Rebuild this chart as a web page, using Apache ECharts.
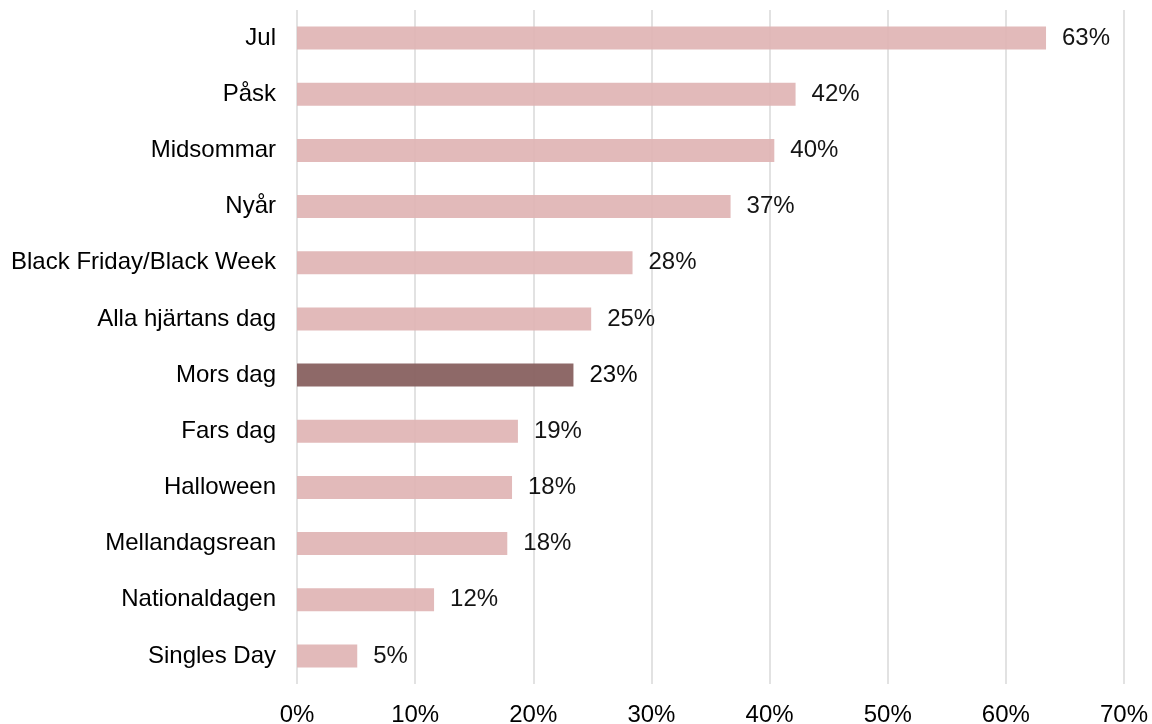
<!DOCTYPE html>
<html>
<head>
<meta charset="utf-8">
<script src="https://cdn.jsdelivr.net/npm/echarts@6/dist/echarts.min.js"></script>
<style>
  html, body { margin: 0; padding: 0; background: #fff; }
  #chart { width: 1152px; height: 724px; }
</style>
</head>
<body>
<div id="chart"></div>
<script>
// kategorier, uppifrån och ned
var categories = ['Jul', 'Påsk', 'Midsommar', 'Nyår', 'Black Friday/Black Week', 'Alla hjärtans dag',
  'Mors dag', 'Fars dag', 'Halloween', 'Mellandagsrean', 'Nationaldagen', 'Singles Day'];
var values = [63.4, 42.2, 40.4, 36.7, 28.4, 24.9, 23.4, 18.7, 18.2, 17.8, 11.6, 5.1];
var highlight = 'Mors dag';
var xTicks = [0, 10, 20, 30, 40, 50, 60, 70];

var myChart = echarts.init(document.getElementById('chart'));

var option = {
  animation: false,
  textStyle: { fontFamily: 'Liberation Sans, Arial, sans-serif' },
  grid: { left: 297, right: 28, top: 10, bottom: 40, containLabel: false, outerBoundsMode: 'none' },
  xAxis: {
    type: 'value',
    min: 0,
    max: 70,
    interval: 10,
    axisLine: { show: false },
    axisTick: { show: false },
    splitLine: { show: true, lineStyle: { color: '#d9d9d9', width: 1.5 } },
    axisLabel: {
      formatter: function (v) { return xTicks.indexOf(v) >= 0 ? v + '%' : ''; },
      color: '#000',
      fontSize: 24,
      margin: 19
    }
  },
  yAxis: {
    type: 'category',
    inverse: true,
    data: categories,
    axisLine: { show: false },
    axisTick: { show: false },
    axisLabel: { color: '#000', fontSize: 24, margin: 21 }
  },
  series: [{
    type: 'bar',
    barWidth: '41%',
    data: values.map(function (v, i) {
      var dark = categories[i] === highlight;
      return {
        value: v,
        itemStyle: { color: dark ? '#8a6463' : '#e0b4b4', opacity: dark ? 0.97 : 0.92 }
      };
    }),
    label: {
      show: true,
      position: 'right',
      distance: 16,
      color: '#000',
      fontSize: 24,
      formatter: function (p) { return Math.round(p.value) + '%'; }
    }
  }]
};

myChart.setOption(option);
</script>
</body>
</html>
